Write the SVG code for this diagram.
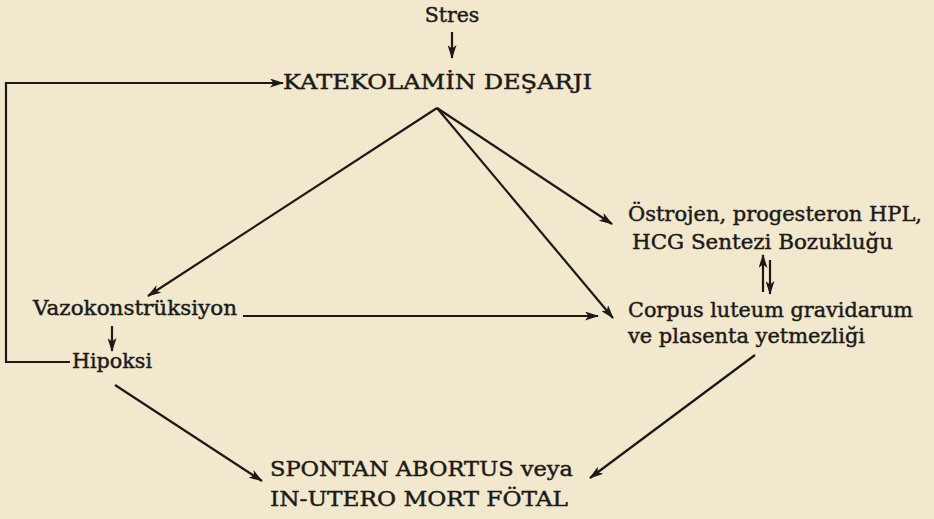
<svg xmlns="http://www.w3.org/2000/svg" width="934" height="519" viewBox="0 0 934 519">
<defs>
<style>
text{font-family:"DejaVu Serif","Liberation Serif",serif;fill:#1c1a17;stroke:#1c1a17;stroke-width:0.45;font-size:20.5px}
.c{stroke:#1c1a17;stroke-width:2.2;fill:none}
</style>
<marker id="ah" viewBox="0 0 14 9" refX="13" refY="4.5" markerWidth="14" markerHeight="9" markerUnits="userSpaceOnUse" orient="auto">
<path d="M0,0 L14,4.5 L0,9 L3.5,4.5 Z" fill="#1c1a17"/>
</marker>
</defs>
<rect width="934" height="519" fill="#f1e8cd"/>
<g id="stres"><text x="452" y="22" text-anchor="middle" font-size="17.5">Stres</text></g>
<g id="katekolamin"><text x="283" y="89" textLength="309" lengthAdjust="spacingAndGlyphs" font-size="19.5">KATEKOLAMİN DEŞARJI</text></g>
<g id="ostrojen"><text x="628" y="221" textLength="294" lengthAdjust="spacingAndGlyphs">Östrojen, progesteron HPL,</text><text x="632" y="249" textLength="261" lengthAdjust="spacingAndGlyphs">HCG Sentezi Bozukluğu</text></g>
<g id="corpus"><text x="628" y="317" textLength="285" lengthAdjust="spacingAndGlyphs">Corpus luteum gravidarum</text><text x="628" y="343" textLength="237" lengthAdjust="spacingAndGlyphs">ve plasenta yetmezliği</text></g>
<g id="vazo"><text x="33" y="315" textLength="204" lengthAdjust="spacingAndGlyphs">Vazokonstrüksiyon</text></g>
<g id="hipoksi"><text x="72" y="368" textLength="80" lengthAdjust="spacingAndGlyphs">Hipoksi</text></g>
<g id="spontan"><text x="270" y="476" textLength="303" lengthAdjust="spacingAndGlyphs">SPONTAN ABORTUS veya</text><text x="270" y="506" textLength="298" lengthAdjust="spacingAndGlyphs">IN-UTERO MORT FÖTAL</text></g>
<g id="connectors" class="c">
<line class="c" x1="452" y1="32" x2="452" y2="58" marker-end="url(#ah)" stroke-width="1.5"/>
<polyline class="c" points="70,362 6,362 6,83 283,83" marker-end="url(#ah)" stroke-width="2.6"/>
<line class="c" x1="437" y1="108" x2="148" y2="296" marker-end="url(#ah)"/>
<line class="c" x1="437" y1="108" x2="612" y2="224" marker-end="url(#ah)"/>
<line class="c" x1="437" y1="108" x2="613" y2="318" marker-end="url(#ah)"/>
<line class="c" x1="243" y1="316" x2="598" y2="316" marker-end="url(#ah)" stroke-width="2.6"/>
<line class="c" x1="112" y1="326" x2="112" y2="351" marker-end="url(#ah)"/>
<line class="c" x1="115" y1="385" x2="262" y2="481" marker-end="url(#ah)"/>
<line class="c" x1="755" y1="355" x2="590" y2="478" marker-end="url(#ah)"/>
<line class="c" x1="763" y1="292" x2="763" y2="255" marker-end="url(#ah)"/>
<line class="c" x1="770" y1="260" x2="770" y2="294" marker-end="url(#ah)"/>
</g>
</svg>
